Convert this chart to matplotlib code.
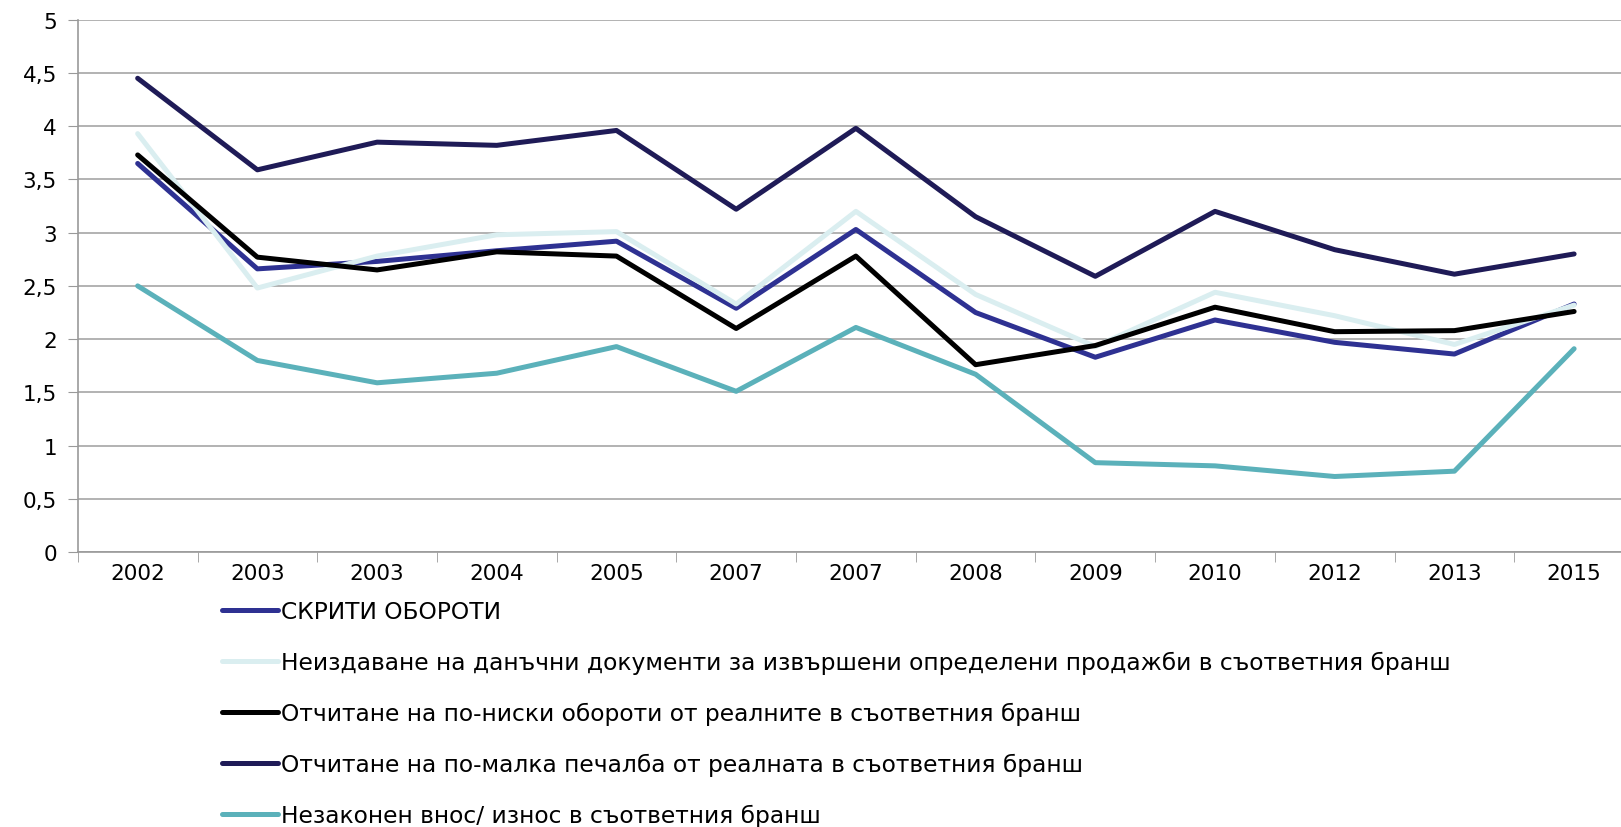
import matplotlib
matplotlib.use("Agg")
import matplotlib.pyplot as plt
from matplotlib.ticker import FuncFormatter, FixedLocator

plt.rcParams['font.family'] = ['DejaVu Sans']

years = ["2002", "2003", "2003", "2004", "2005", "2007", "2007",
         "2008", "2009", "2010", "2012", "2013", "2015"]

hidden_turnover = [3.65, 2.66, 2.73, 2.83, 2.92, 2.29, 3.03, 2.25, 1.83, 2.18, 1.97, 1.86, 2.33]
no_tax_docs = [3.93, 2.48, 2.78, 2.98, 3.01, 2.33, 3.20, 2.42, 1.93, 2.44, 2.22, 1.95, 2.32]
lower_turnover = [3.73, 2.77, 2.65, 2.82, 2.78, 2.10, 2.78, 1.76, 1.94, 2.30, 2.07, 2.08, 2.26]
lower_profit = [4.45, 3.59, 3.85, 3.82, 3.96, 3.22, 3.98, 3.15, 2.59, 3.20, 2.84, 2.61, 2.80]
illegal_trade = [2.50, 1.80, 1.59, 1.68, 1.93, 1.51, 2.11, 1.67, 0.84, 0.81, 0.71, 0.76, 1.91]

labels = [
    "СКРИТИ ОБОРОТИ",
    "Неиздаване на данъчни документи за извършени определени продажби в съответния бранш",
    "Отчитане на по-ниски обороти от реалните в съответния бранш",
    "Отчитане на по-малка печалба от реалната в съответния бранш",
    "Незаконен внос/ износ в съответния бранш",
]
colors = ["#2E3192", "#DAEEF0", "#000000", "#1F1B57", "#5BB1BA"]
series = [hidden_turnover, no_tax_docs, lower_turnover, lower_profit, illegal_trade]

fig = plt.figure(figsize=(16.21, 8.28), dpi=100)
ax = fig.add_axes([0.048, 0.332, 0.96, 0.643])

x = list(range(len(years)))
for vals, c, lab in zip(series, colors, labels):
    ax.plot(x, vals, color=c, lw=3.6, label=lab, solid_capstyle='round')

ax.set_xlim(-0.5, len(years) - 0.5)
ax.set_ylim(0, 5)
ax.set_yticks([i * 0.5 for i in range(11)])
ax.yaxis.set_major_formatter(FuncFormatter(lambda v, p: ('%g' % v).replace('.', ',')))
ax.set_xticks(x)
ax.set_xticklabels(years)
ax.xaxis.set_minor_locator(FixedLocator([i - 0.5 for i in range(len(years) + 1)]))
ax.tick_params(axis='x', which='major', length=0, pad=8, labelsize=15.5)
ax.tick_params(axis='x', which='minor', length=7, color='#999999')
ax.tick_params(axis='y', length=7, color='#999999', pad=8, labelsize=15.5)

ax.grid(axis='y', color='#A6A6A6', lw=1.2)
ax.set_axisbelow(True)
for s in ['top', 'right']:
    ax.spines[s].set_visible(False)
for s in ['left', 'bottom']:
    ax.spines[s].set_color('#999999')
    ax.spines[s].set_linewidth(1.2)

fig.legend(loc='upper left', bbox_to_anchor=(0.137, 0.274), frameon=False,
           fontsize=16.8, handlelength=2.4, handletextpad=0.13, labelspacing=1.19,
           borderpad=0, borderaxespad=0)

fig.savefig("out.png", dpi=100)
